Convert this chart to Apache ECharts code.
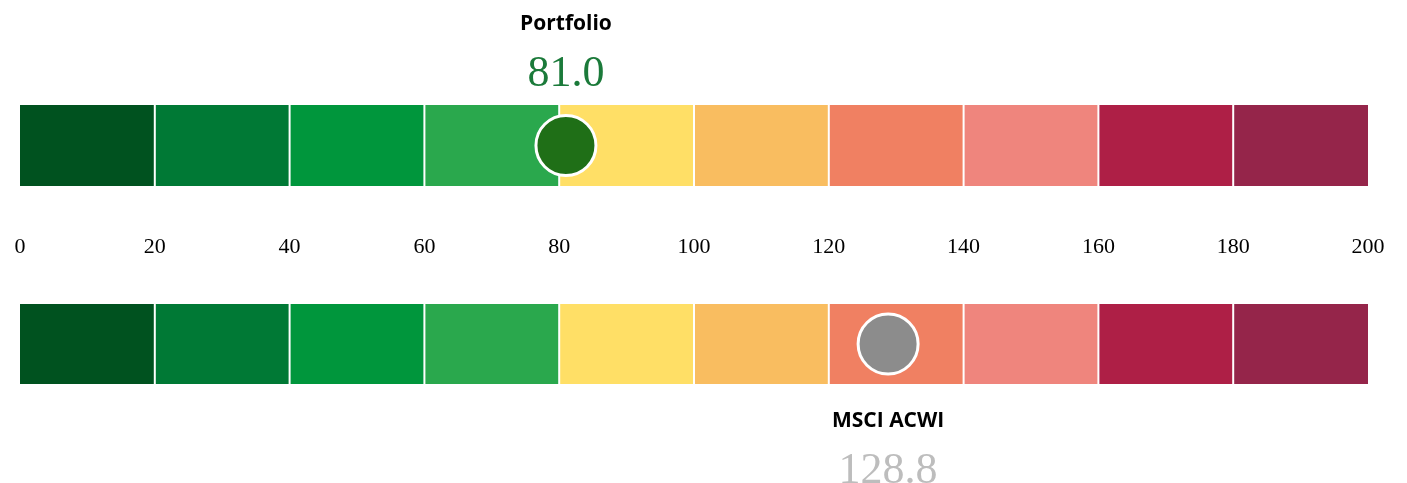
<!DOCTYPE html>
<html>
<head>
<meta charset="utf-8">
<script src="https://cdn.jsdelivr.net/npm/echarts@6/dist/echarts.min.js"></script>
<style>
  html, body { margin: 0; padding: 0; background: #fff; }
  #chart { width: 1407px; height: 483px; }
</style>
</head>
<body>
<div id="chart"></div>
<script>
// score bands (0-200 in steps of 20)
const bandStarts = [0, 20, 40, 60, 80, 100, 120, 140, 160, 180];
const bandEnds = [20, 40, 60, 80, 100, 120, 140, 160, 180, 200];
const bandColors = ['#00521f', '#007935', '#00963c', '#2aa84d', '#ffdf66',
                    '#f9bd60', '#f08062', '#ef857d', '#ae1f46', '#95254a'];

const tickValues = [0, 20, 40, 60, 80, 100, 120, 140, 160, 180, 200];

const portfolioName = 'Portfolio';
const portfolioScore = 81.0;
const benchmarkName = 'MSCI ACWI';
const benchmarkScore = 128.8;

const chart = echarts.init(document.getElementById('chart'));

const bandData = bandStarts.map((s, i) => [s, bandEnds[i]]);

function renderBand(params, api) {
    const p0 = api.coord([api.value(0), 1]);
    const p1 = api.coord([api.value(1), 0]);
    // leave a 2px white gap between neighbouring bands
    const padL = params.dataIndex === 0 ? 0 : 1;
    const padR = params.dataIndex === bandData.length - 1 ? 0 : 1;
    return {
        type: 'rect',
        shape: { x: p0[0] + padL, y: p0[1], width: p1[0] - p0[0] - padL - padR, height: p1[1] - p0[1] },
        style: { fill: bandColors[params.dataIndex] }
    };
}

const xBase = {
    type: 'value', min: 0, max: 200, interval: 20,
    axisLine: { show: false }, axisTick: { show: false }, splitLine: { show: false }
};
const yBase = { type: 'value', min: 0, max: 1, show: false };

function markerLabel(name, score, color, pos, dist) {
    return {
        show: true,
        position: pos,
        distance: dist,
        formatter: '{n|' + name + '}\n{v|' + score.toFixed(1) + '}',
        rich: {
            n: { fontFamily: 'Open Sans', fontWeight: 'bold', fontSize: 21, color: '#000', lineHeight: 50, align: 'center' },
            v: { fontFamily: 'Liberation Serif', fontSize: 44, color: color, lineHeight: 50, align: 'center' }
        }
    };
}

chart.setOption({
    animation: false,
    grid: [
        { left: 20, right: 39, top: 105, height: 81 },
        { left: 20, right: 39, top: 304, height: 80 }
    ],
    xAxis: [
        Object.assign({}, xBase, {
            gridIndex: 0,
            axisLabel: {
                margin: 50, fontFamily: 'Liberation Serif', fontSize: 22, color: '#000',
                customValues: tickValues
            }
        }),
        Object.assign({}, xBase, { gridIndex: 1, axisLabel: { show: false } })
    ],
    yAxis: [
        Object.assign({}, yBase, { gridIndex: 0 }),
        Object.assign({}, yBase, { gridIndex: 1 })
    ],
    series: [
        { type: 'custom', xAxisIndex: 0, yAxisIndex: 0, renderItem: renderBand, data: bandData, silent: true },
        { type: 'custom', xAxisIndex: 1, yAxisIndex: 1, renderItem: renderBand, data: bandData, silent: true },
        {
            type: 'scatter', xAxisIndex: 0, yAxisIndex: 0,
            data: [[portfolioScore, 0.5]],
            symbolSize: 60,
            itemStyle: { color: '#1f6f17', borderColor: '#fff', borderWidth: 3, opacity: 1 },
            label: markerLabel(portfolioName, portfolioScore, '#1b7a3a', 'top', 15)
        },
        {
            type: 'scatter', xAxisIndex: 1, yAxisIndex: 1,
            data: [[benchmarkScore, 0.5]],
            symbolSize: 60,
            itemStyle: { color: '#8c8c8c', borderColor: '#fff', borderWidth: 3, opacity: 1 },
            label: markerLabel(benchmarkName, benchmarkScore, '#bdbdbd', 'bottom', 21)
        }
    ]
});
</script>
</body>
</html>
